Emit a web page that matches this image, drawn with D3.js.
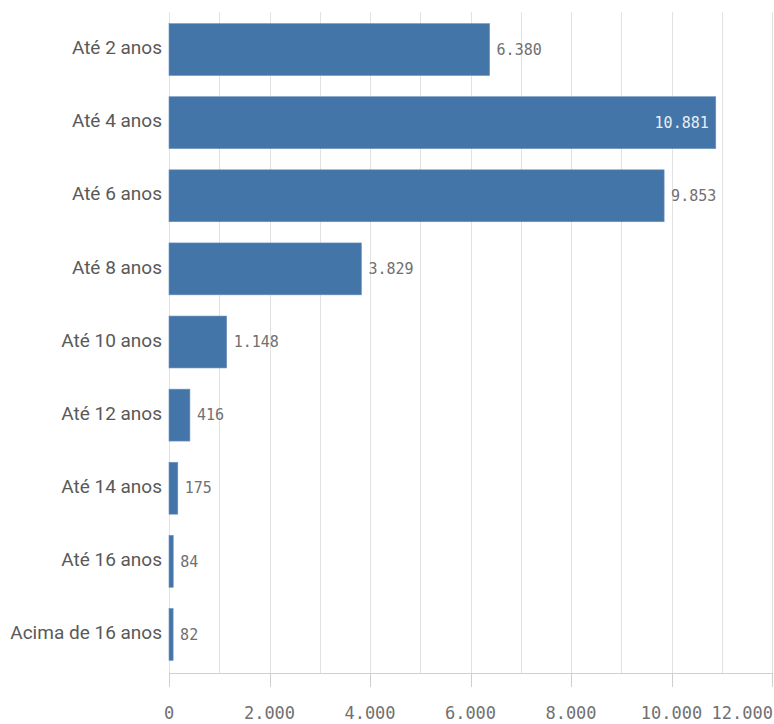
<!DOCTYPE html>
<html>
<head>
<meta charset="utf-8">
<script src="https://d3js.org/d3.v7.min.js"></script>
<style>
  body { margin: 0; background: #fff; }
  .cat { font-family: Roboto, sans-serif; font-size: 19px; fill: #595959; }
  .num { font-family: "DejaVu Sans Mono", monospace; font-size: 15px; fill: #707070; }
  .tick-lbl { font-family: "DejaVu Sans Mono", monospace; font-size: 17px; fill: #707070; }
</style>
</head>
<body>
<div id="chart"></div>
<script>
// data
var categories = ["Até 2 anos", "Até 4 anos", "Até 6 anos", "Até 8 anos", "Até 10 anos",
                  "Até 12 anos", "Até 14 anos", "Até 16 anos", "Acima de 16 anos"];
var values = [6380, 10881, 9853, 3829, 1148, 416, 175, 84, 82];
var tickValues = [0, 2000, 4000, 6000, 8000, 10000, 12000];

var width = 774, height = 724;
var x0 = 169, x1 = 772, yTop = 13, yBase = 673;

var svg = d3.select("#chart").append("svg")
    .attr("width", width)
    .attr("height", height);

var x = d3.scaleLinear().domain([0, 12000]).range([x0, x1]);
var y = d3.scaleBand().domain(categories).range([yTop, yBase - 2])
    .paddingInner(0.29).paddingOuter(0.145);

var fmt = function (v) { return d3.format(",")(v).replace(/,/g, "."); };

// grid lines every 1000
svg.append("g").selectAll("line")
  .data(d3.range(0, 12001, 1000))
  .enter().append("line")
  .attr("x1", function (d) { return Math.round(x(d)) + 0.5; })
  .attr("x2", function (d) { return Math.round(x(d)) + 0.5; })
  .attr("y1", 12)
  .attr("y2", yBase)
  .style("stroke", "#e2e2e2")
  .style("stroke-width", 1);

// bottom axis line + ticks
svg.append("line")
  .attr("x1", x0).attr("x2", x1 + 1)
  .attr("y1", yBase + 0.5).attr("y2", yBase + 0.5)
  .style("stroke", "#cfcfcf");

svg.append("g").selectAll("line")
  .data(tickValues)
  .enter().append("line")
  .attr("x1", function (d) { return Math.round(x(d)) + 0.5; })
  .attr("x2", function (d) { return Math.round(x(d)) + 0.5; })
  .attr("y1", yBase)
  .attr("y2", yBase + 14)
  .style("stroke", "#cfcfcf");

svg.append("g").selectAll("text")
  .data(tickValues)
  .enter().append("text")
  .attr("class", "tick-lbl")
  .attr("x", function (d) { return d === 12000 ? width - 1 : x(d); })
  .attr("y", 719)
  .attr("text-anchor", function (d) { return d === 12000 ? "end" : "middle"; })
  .text(function (d) { return fmt(d); });

// bars
svg.append("g").selectAll("rect")
  .data(values)
  .enter().append("rect")
  .attr("x", x0)
  .attr("y", function (d, i) { return y(categories[i]); })
  .attr("width", function (d) { return x(d) - x0; })
  .attr("height", y.bandwidth())
  .style("fill", "#4475a8")
  .style("stroke", "#6b92bd")
  .style("stroke-width", 0.6);

// category labels
svg.append("g").selectAll("text")
  .data(categories)
  .enter().append("text")
  .attr("class", "cat")
  .attr("x", 162)
  .attr("y", function (d) { return y(d) + y.bandwidth() / 2 - 2; })
  .attr("dy", "0.35em")
  .attr("text-anchor", "end")
  .text(function (d) { return d; });

// value labels
svg.append("g").selectAll("text")
  .data(values)
  .enter().append("text")
  .attr("class", "num")
  .attr("x", function (d) { return d > 10000 ? x(d) - 7 : x(d) + 7; })
  .attr("y", function (d, i) { return y(categories[i]) + y.bandwidth() / 2; })
  .attr("dy", "0.35em")
  .attr("text-anchor", function (d) { return d > 10000 ? "end" : "start"; })
  .style("fill", function (d) { return d > 10000 ? "#e8eef5" : "#707070"; })
  .text(function (d) { return fmt(d); });
</script>
</body>
</html>
